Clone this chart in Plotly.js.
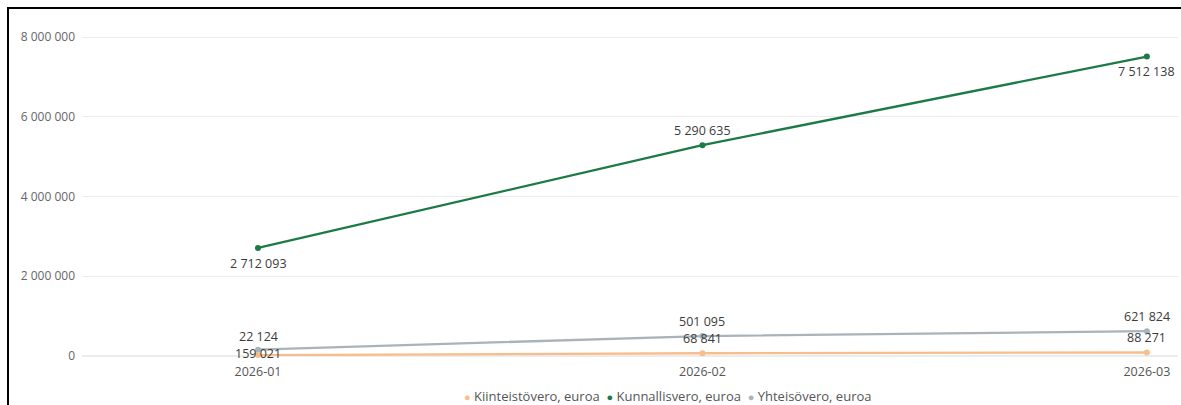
<!DOCTYPE html>
<html>
<head>
<meta charset="utf-8">
<script src="https://cdn.plot.ly/plotly-3.0.1.min.js"></script>
<style>
  html, body { margin: 0; padding: 0; background: #fff; }
  #wrap { position: relative; width: 1181px; height: 405px; overflow: hidden; }
  #chart { width: 1181px; height: 405px; }
  #frameTop { position: absolute; left: 7px; top: 7px; width: 1174px; height: 0; border-top: 2.5px solid #000; }
  #frameLeft { position: absolute; left: 7px; top: 7px; width: 0; height: 398px; border-left: 2.5px solid #000; }
</style>
</head>
<body>
<div id="wrap">
  <div id="chart"></div>
  <div id="frameTop"></div>
  <div id="frameLeft"></div>
</div>
<script>
const months = ["2026-01", "2026-02", "2026-03"];
const kiinteistovero = [22124, 68841, 88271];
const kunnallisvero = [2712093, 5290635, 7512138];
const yhteisovero = [159021, 501095, 621824];
const seriesNames = ["Kiinteistövero, euroa", "Kunnallisvero, euroa", "Yhteisövero, euroa"];
const yTickVals = [0, 2000000, 4000000, 6000000, 8000000];

const colors = ["#F8BD8A", "#1B7A46", "#A9B3BC"];
const FONT = "Open Sans, Noto Sans, sans-serif";
const LABEL_FONT = { family: FONT, size: 12.5, color: "#3b3b3b" };

function fmt(v) {
  return String(v).replace(/\B(?=(\d{3})+(?!\d))/g, " ");
}

// label placement per point: [textposition, extra yshift in px]
const placement = {
  yht: [["middle center", -4], ["top center", 0], ["top center", 0]],
  kii: [["top center", 4], ["top center", 0], ["top center", 0]],
  kun: [["bottom center", -1], ["top center", 0], ["bottom center", 0]]
};

function makeTrace(name, vals, color) {
  return {
    type: "scatter",
    mode: "lines+markers",
    name: name,
    x: months,
    y: vals,
    line: { color: color, width: 2.3 },
    marker: { color: color, size: 6 },
    cliponaxis: false,
    showlegend: false,
    hoverinfo: "x+y+name"
  };
}

function makeLabels(vals, place) {
  return vals.map((v, i) => {
    const pos = place[i][0];
    let yanchor = "middle", base = 0;
    if (pos.startsWith("top")) { yanchor = "bottom"; base = 4; }
    if (pos.startsWith("bottom")) { yanchor = "top"; base = -4; }
    return {
      x: months[i], y: v, xref: "x", yref: "y",
      text: fmt(v), showarrow: false,
      xanchor: "center", yanchor: yanchor,
      yshift: base + place[i][1],
      font: LABEL_FONT
    };
  });
}

const data = [
  makeTrace(seriesNames[2], yhteisovero, colors[2]),
  makeTrace(seriesNames[0], kiinteistovero, colors[0]),
  makeTrace(seriesNames[1], kunnallisvero, colors[1])
];

const legendText = seriesNames.map((n, i) =>
  '<span style="color:' + colors[i] + ';font-size:11px">●</span> ' + n
).join("  ");

const annotations = []
  .concat(makeLabels(yhteisovero, placement.yht))
  .concat(makeLabels(kiinteistovero, placement.kii))
  .concat(makeLabels(kunnallisvero, placement.kun));

annotations.push({
  xref: "paper", yref: "paper",
  x: 0.535, y: -0.12,
  xanchor: "center", yanchor: "middle",
  showarrow: false,
  text: legendText,
  font: { family: FONT, size: 13, color: "#555" }
});

const layout = {
  width: 1181,
  height: 405,
  margin: { l: 82, r: 3, t: 20, b: 49 },
  paper_bgcolor: "#ffffff",
  plot_bgcolor: "#ffffff",
  font: { family: FONT, size: 12.5, color: "#555" },
  showlegend: false,
  xaxis: {
    type: "category",
    range: [-0.396, 2.07],
    showgrid: false,
    zeroline: false,
    showline: false,
    ticks: "",
    tickfont: { family: FONT, size: 12.5, color: "#555" },
    ticklabelstandoff: 6
  },
  yaxis: {
    range: [0, 8430000],
    tickvals: yTickVals,
    ticktext: yTickVals.map(fmt),
    showgrid: true,
    gridcolor: "#ececec",
    gridwidth: 1.2,
    zeroline: true,
    zerolinecolor: "#ececec",
    zerolinewidth: 1.2,
    showline: false,
    ticks: "",
    ticklabelstandoff: 6,
    tickfont: { family: FONT, size: 12, color: "#666" }
  },
  annotations: annotations
};

Plotly.newPlot("chart", data, layout, { displayModeBar: false, staticPlot: true });
</script>
</body>
</html>
